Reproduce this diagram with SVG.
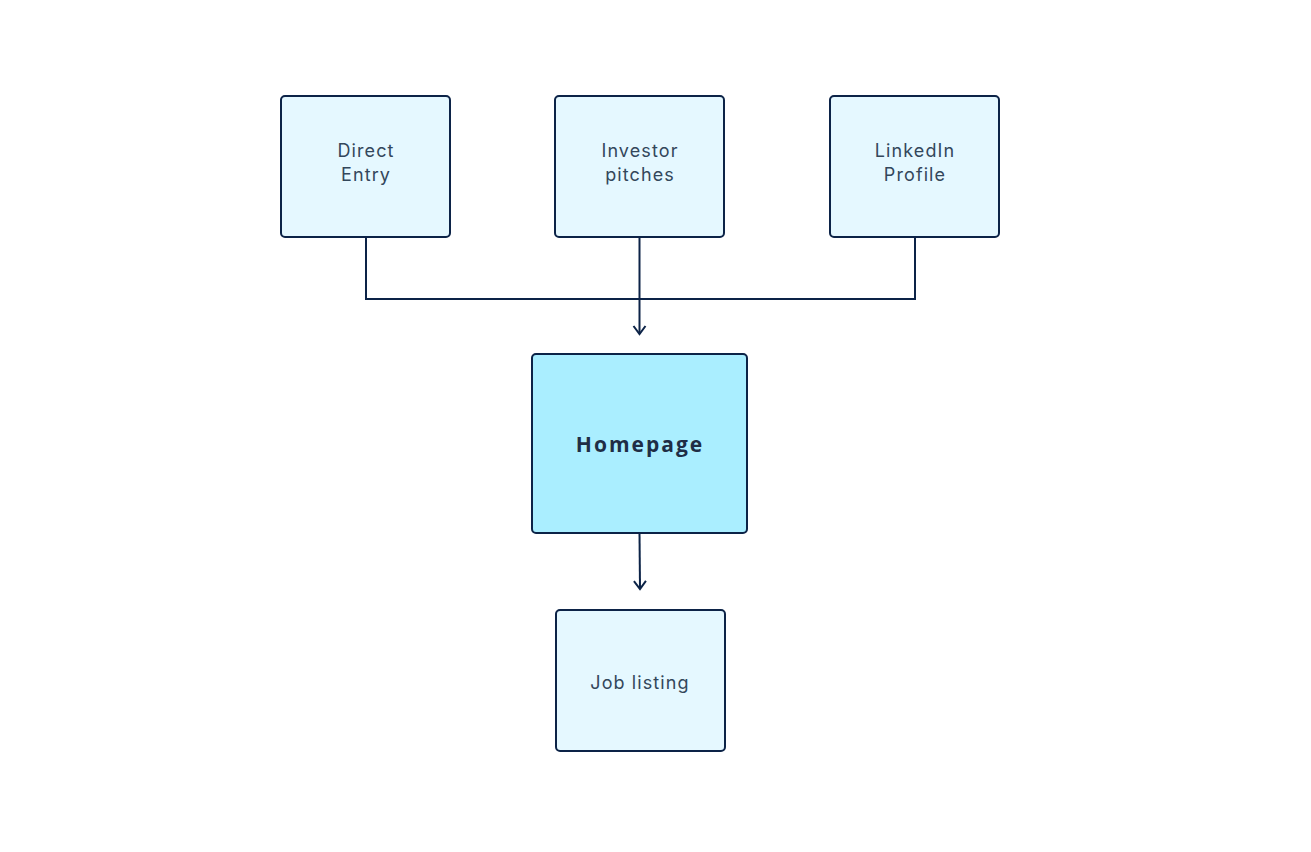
<svg xmlns="http://www.w3.org/2000/svg" width="1311" height="852" viewBox="0 0 1311 852">
<style>
.box{fill:#e5f8ff;stroke:#0c2347;stroke-width:2}
.main{fill:#aaeeff;stroke:#0c2347;stroke-width:2}
.lbl{font-family:Inter,"Liberation Sans",sans-serif;font-size:18px;fill:#33475b;letter-spacing:1.1px;text-anchor:middle}
.big{font-family:"Open Sans","Liberation Sans",sans-serif;font-size:21px;font-weight:bold;fill:#1f2d45;letter-spacing:2px;text-anchor:middle}
.ln{fill:none;stroke:#0c2347;stroke-width:2}
</style>
<defs>
<marker id="ah" markerWidth="16" markerHeight="16" refX="14" refY="8" orient="auto" markerUnits="userSpaceOnUse" viewBox="0 0 16 16">
<path d="M6,2 L14,8 L6,14" fill="none" stroke="#0c2347" stroke-width="2"/>
</marker>
</defs>
<rect width="1311" height="852" fill="#fff"/>
<g id="connectors">
<path class="ln" d="M366,237 V299 H915 V237"/>
<path class="ln" d="M639.5,237 V334" marker-end="url(#ah)"/>
<path class="ln" d="M639.5,533 L640,589" marker-end="url(#ah)"/>
</g>
<g id="direct-entry">
<rect class="box" x="281" y="96" width="169" height="141" rx="4"/>
<text class="lbl" x="366" y="157">Direct</text>
<text class="lbl" x="366" y="181">Entry</text>
</g>
<g id="investor-pitches">
<rect class="box" x="555" y="96" width="169" height="141" rx="4"/>
<text class="lbl" x="640" y="157">Investor</text>
<text class="lbl" x="640" y="181">pitches</text>
</g>
<g id="linkedin-profile">
<rect class="box" x="830" y="96" width="169" height="141" rx="4"/>
<text class="lbl" x="915" y="157">LinkedIn</text>
<text class="lbl" x="915" y="181">Profile</text>
</g>
<g id="homepage">
<rect class="main" x="532" y="354" width="215" height="179" rx="4"/>
<text class="big" x="640" y="452">Homepage</text>
</g>
<g id="job-listing">
<rect class="box" x="556" y="610" width="169" height="141" rx="4"/>
<text class="lbl" x="640" y="689">Job listing</text>
</g>
</svg>
